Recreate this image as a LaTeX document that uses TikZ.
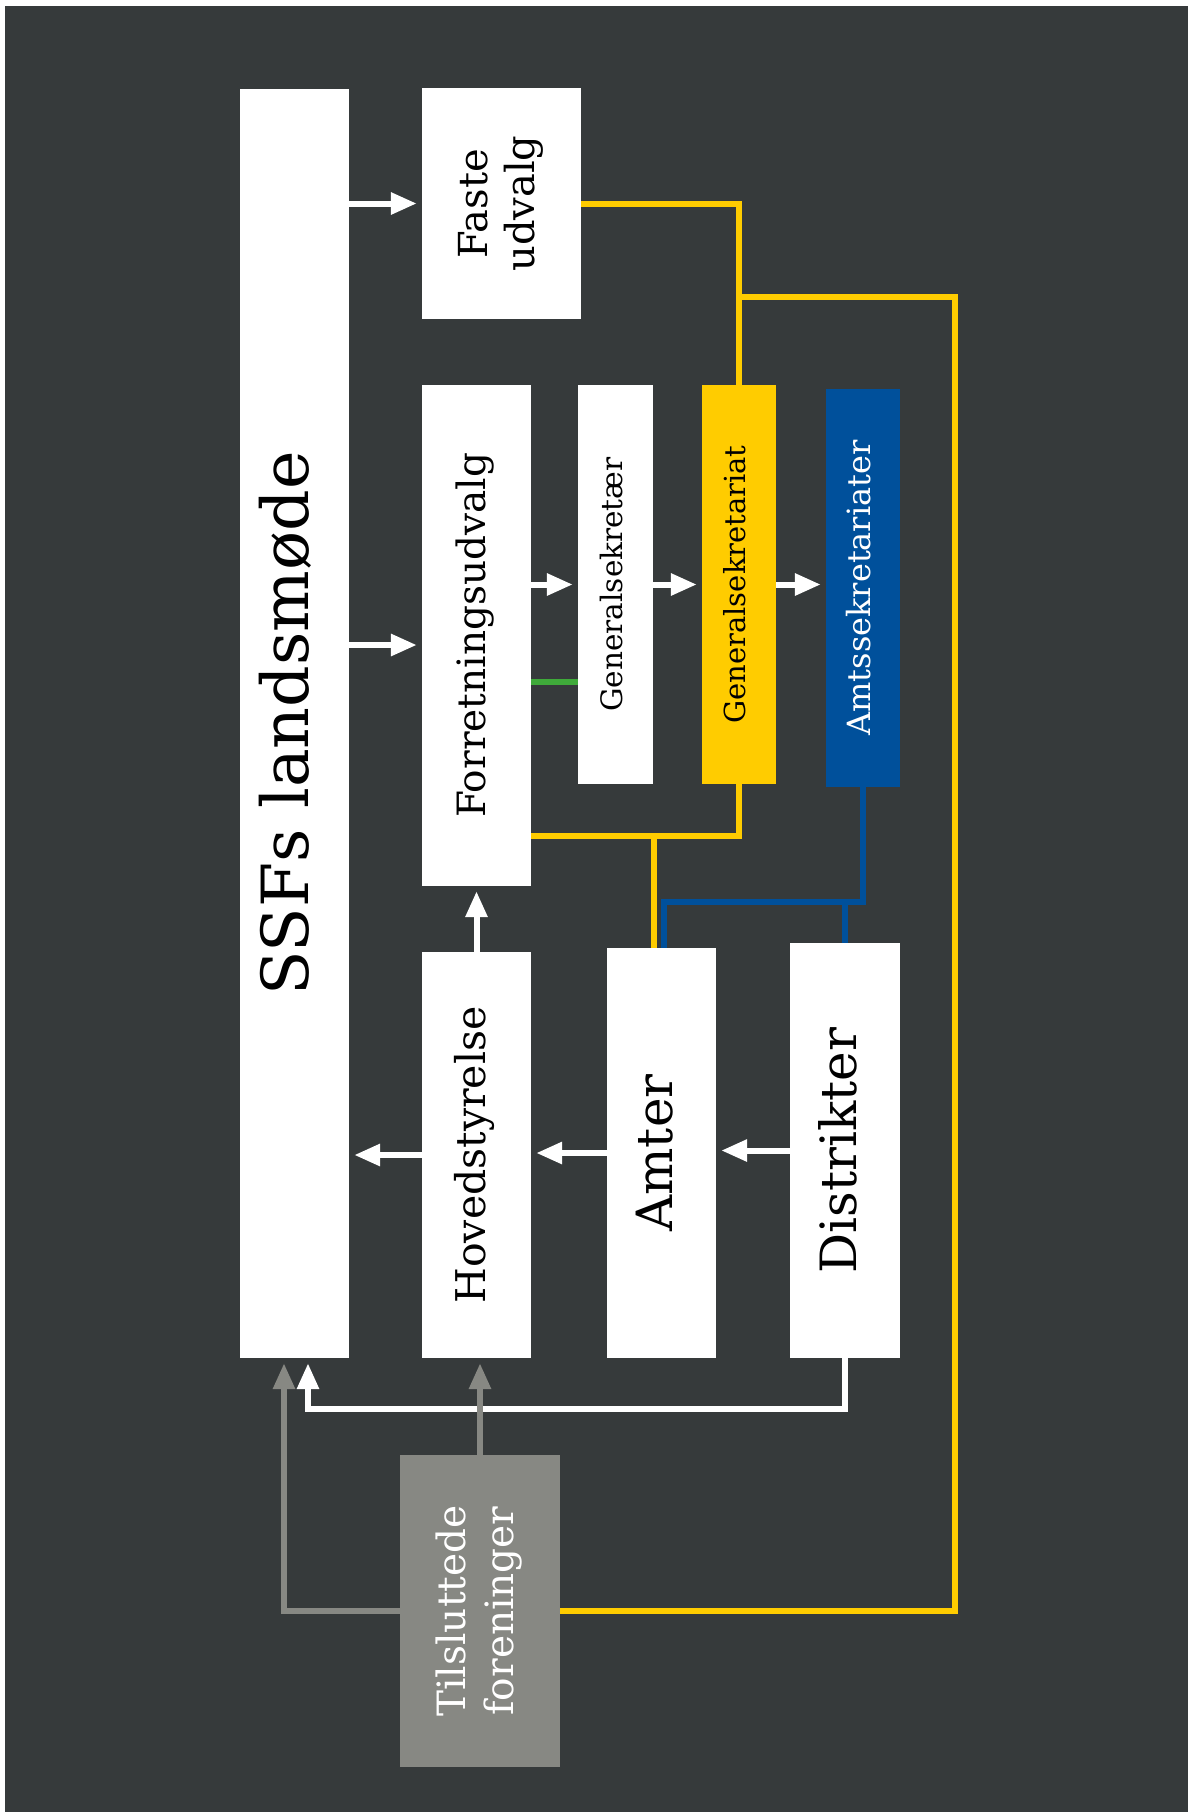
\documentclass[tikz,border=0pt]{standalone}
\usepackage{fontspec}
\setmainfont{DejaVu Serif}
\usetikzlibrary{positioning,arrows.meta}
\definecolor{bg}{HTML}{363A3B}
\definecolor{gul}{HTML}{FFCC00}
\definecolor{blaa}{HTML}{00509B}
\definecolor{groen}{HTML}{3FAA3A}
\definecolor{graa}{HTML}{878883}
\newcommand{\vlabel}[1]{\rotatebox{90}{\begin{tabular}{@{}c@{}}#1\end{tabular}}}
\tikzset{
  box/.style={fill=white, text=black, inner sep=0pt},
  pil/.style={draw=white, line width=6pt, -{Triangle[length=26pt,width=21pt]}, shorten >=5pt},
  graapil/.style={pil, draw=graa},
  gulstreg/.style={draw=gul, line width=6pt},
  blaastreg/.style={draw=blaa, line width=6pt},
}

\begin{document}
\begin{tikzpicture}[x=1pt, y=-1pt]
      \useasboundingbox (0,0) rectangle (1188,1812);
      \fill [white] (0,0) rectangle (1188,1812);
      \fill [bg] (5,6) rectangle (1188,1812);

      \node [box, minimum width=109pt, minimum height=1269pt, font=\fontsize{65}{70}\selectfont] at (294.5, 723.5) (ssf) {\vlabel{SSFs landsmøde}};
      \node [box, minimum width=159pt, minimum height=231pt, font=\fontsize{40}{47}\selectfont] at (501.5, 203.5) (faste) {\vlabel{Faste\\udvalg}};
      \node [box, minimum width=109pt, minimum height=501pt, font=\fontsize{39}{44}\selectfont] at (476.5, 635.5) (forr) {\vlabel{Forretningsudvalg}};
      \node [box, minimum width=75pt, minimum height=399pt, font=\fontsize{29.5}{34}\selectfont] at (615.5, 584.5) (gsek) {\vlabel{Generalsekretær}};
      \node [box, fill=gul, minimum width=74pt, minimum height=399pt, font=\fontsize{29}{34}\selectfont] at (739, 584.5) (gsat) {\vlabel{Generalsekretariat}};
      \node [box, fill=blaa, text=white, minimum width=74pt, minimum height=398pt, font=\fontsize{32}{36}\selectfont] at (863, 588) (amts) {\vlabel{Amtssekretariater}};
      \node [box, minimum width=109pt, minimum height=406pt, font=\fontsize{41}{46}\selectfont] at (476.5, 1155) (hoved) {\vlabel{Hovedstyrelse}};
      \node [box, minimum width=109pt, minimum height=410pt, font=\fontsize{50}{56}\selectfont] at (661.5, 1153) (amter) {\vlabel{Amter}};
      \node [box, minimum width=110pt, minimum height=415pt, font=\fontsize{50}{56}\selectfont] at (845, 1150.5) (distr) {\vlabel{Distrikter}};
      \node [box, fill=graa, text=white, minimum width=160pt, minimum height=312pt, font=\fontsize{39}{48}\selectfont] at (480, 1611) (tilsl) {\vlabel{Tilsluttede\\foreninger}};

      \coordinate (yk) at (955, 297);
      \coordinate (yl) at (654, 836);
      \coordinate (bk) at (0, 902);
      \coordinate (wk) at (0, 1409);

      % gule forbindelser
      \draw [gulstreg] (faste.east) -| (gsat.north);
      \draw [gulstreg] (gsat.north |- yk) -- (yk) |- (tilsl.east);
      \draw [gulstreg] (forr.east |- yl) -| (gsat.south);
      \draw [gulstreg] (yl) -- ([xshift=-7.5pt]amter.north);

      % blaa forbindelser
      \draw [blaastreg] (amts.south) -- (amts.south |- bk) -| ([xshift=2.5pt]amter.north);
      \draw [blaastreg] (distr.north) -- (distr.north |- bk);

      \draw [draw=groen, line width=6pt] ([yshift=-97.5pt]forr.east |- gsek.west) -- ([yshift=-97.5pt]gsek.west);

      % pile
      \draw [pil] (ssf.east |- faste.west) -- (faste.west);
      \draw [pil] ([yshift=-9.5pt]ssf.east |- forr.west) -- ([yshift=-9.5pt]forr.west);
      \draw [pil] (forr.east |- gsek.west) -- (gsek.west);
      \draw [pil] (gsek.east) -- (gsat.west);
      \draw [pil] (gsat.east) -- (amts.west |- gsat.east);
      \draw [pil] (hoved.north) -- (forr.south);
      \draw [pil] (hoved.west) -- (ssf.east |- hoved.west);
      \draw [pil] (amter.west) -- (hoved.east |- amter.west);
      \draw [pil] (distr.west) -- (amter.east |- distr.west);
      \draw [pil] (distr.south) |- ([xshift=13.5pt]ssf.south |- wk) -- ([xshift=13.5pt]ssf.south);
      \draw [graapil] (tilsl.west) -| ([xshift=-10.5pt]ssf.south);
      \draw [graapil] (tilsl.north) -- (tilsl.north |- hoved.south);
\end{tikzpicture}
\end{document}
